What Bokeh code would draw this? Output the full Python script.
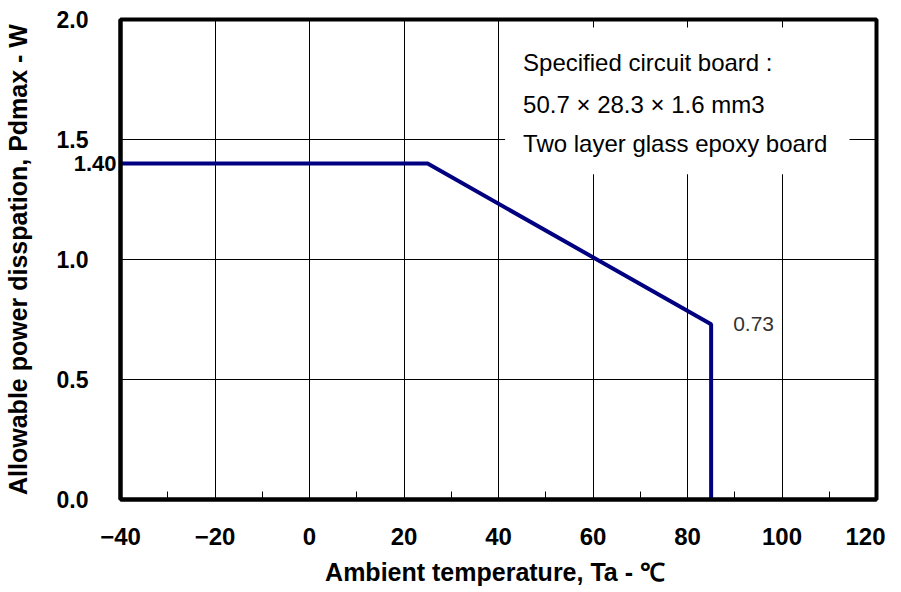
from bokeh.plotting import figure
from bokeh.models import Label, BoxAnnotation, FixedTicker, Range1d, LinearAxis
from bokeh.embed import file_html
from bokeh.resources import INLINE

# Data
temps = [-40, 25, 85, 85]
pd_max = [1.40, 1.40, 0.73, 0.0]

x_ticks = [-40, -20, 0, 20, 40, 60, 80, 100, 120]
x_tick_labels = ["\u221240", "\u221220", "0", "20", "40", "60", "80", "100", "120"]
x_minor = [-30, -10, 10, 30, 50, 70, 90, 110]
y_ticks = [0.0, 0.5, 1.0, 1.5, 2.0]
y_tick_labels = ["0.0", "0.5", "1.0", "1.5", "2.0"]

note_lines = ["Specified circuit board :",
              "50.7 \u00d7 28.3 \u00d7 1.6 mm3",
              "Two layer glass epoxy board"]
max_label = "1.40"
end_label = "0.73"

FONT = "Liberation Sans"

p = figure(width=885, height=590, output_backend="svg", toolbar_location=None,
           x_range=Range1d(-40, 120), y_range=Range1d(0, 2.0),
           min_border_left=119, min_border_right=9, min_border_top=19,
           min_border_bottom=91)

p.background_fill_color = "white"
p.border_fill_color = "white"
p.outline_line_color = "black"
p.outline_line_width = 4

# x axis
xa = p.xaxis[0]
xa.ticker = FixedTicker(ticks=x_ticks, minor_ticks=x_minor)
xa.major_label_overrides = {t: l for t, l in zip(x_ticks, x_tick_labels)}
xa.major_label_text_font = FONT
xa.major_label_text_font_style = "bold"
xa.major_label_text_font_size = "24px"
xa.major_label_text_color = "black"
xa.major_label_standoff = 28
xa.major_tick_in = 0
xa.major_tick_out = 0
xa.minor_tick_in = 8
xa.minor_tick_out = 0
xa.minor_tick_line_color = "black"
xa.minor_tick_line_width = 1
xa.axis_line_color = "black"
xa.axis_line_width = 4
xa.axis_label = "Ambient temperature,  Ta - \u2103"
xa.axis_label_text_font = FONT
xa.axis_label_text_font_style = "bold"
xa.axis_label_text_font_size = "25px"
xa.axis_label_text_color = "black"
xa.axis_label_standoff = 10

# inner left axis carrying only the "1.40" mark
inner = LinearAxis(ticker=FixedTicker(ticks=[pd_max[0]]),
                   major_label_overrides={pd_max[0]: max_label})
inner.major_label_text_font = FONT
inner.major_label_text_font_style = "bold"
inner.major_label_text_font_size = "22px"
inner.major_label_text_color = "black"
inner.major_label_standoff = 4
inner.major_tick_in = 0
inner.major_tick_out = 0
inner.minor_tick_in = 0
inner.minor_tick_out = 0
inner.axis_line_color = "black"
inner.axis_line_width = 4

# main y axis (outer)
ya = p.yaxis[0]
ya.ticker = FixedTicker(ticks=y_ticks)
ya.major_label_overrides = {t: l for t, l in zip(y_ticks, y_tick_labels)}
ya.major_label_text_font = FONT
ya.major_label_text_font_style = "bold"
ya.major_label_text_font_size = "23px"
ya.major_label_text_color = "black"
ya.major_label_standoff = -18
ya.major_tick_in = 0
ya.major_tick_out = 0
ya.minor_tick_in = 0
ya.minor_tick_out = 0
ya.axis_line_alpha = 0
ya.axis_label = "Allowable power disspation, Pdmax - W"
ya.axis_label_text_font = FONT
ya.axis_label_text_font_style = "bold"
ya.axis_label_text_font_size = "25px"
ya.axis_label_text_color = "black"
ya.axis_label_standoff = 22

p.left = [inner] + list(p.left)

# grids
p.xgrid.grid_line_color = "black"
p.xgrid.grid_line_width = 1
p.ygrid.grid_line_color = "black"
p.ygrid.grid_line_width = 1

# white box behind the note
box = BoxAnnotation(left=41.4, right=114.3, bottom=1.355, top=1.967,
                    fill_color="white", fill_alpha=1.0, line_alpha=0,
                    level="underlay")
p.add_layout(box)

# derating curve
p.line(temps, pd_max, line_color="#000080", line_width=4)

# note text
for txt, yy in zip(note_lines, [1.820, 1.645, 1.482]):
    p.add_layout(Label(x=45.2, y=yy, text=txt, text_font=FONT,
                       text_font_size="24px", text_color="black",
                       text_baseline="middle", text_align="left"))

# 0.73 label
p.add_layout(Label(x=temps[2], y=pd_max[2], text=end_label, text_font=FONT,
                   text_font_size="21px", text_color="#333333",
                   text_align="left", text_baseline="middle", x_offset=22))

open("out.html", "w").write(file_html(p, INLINE))
